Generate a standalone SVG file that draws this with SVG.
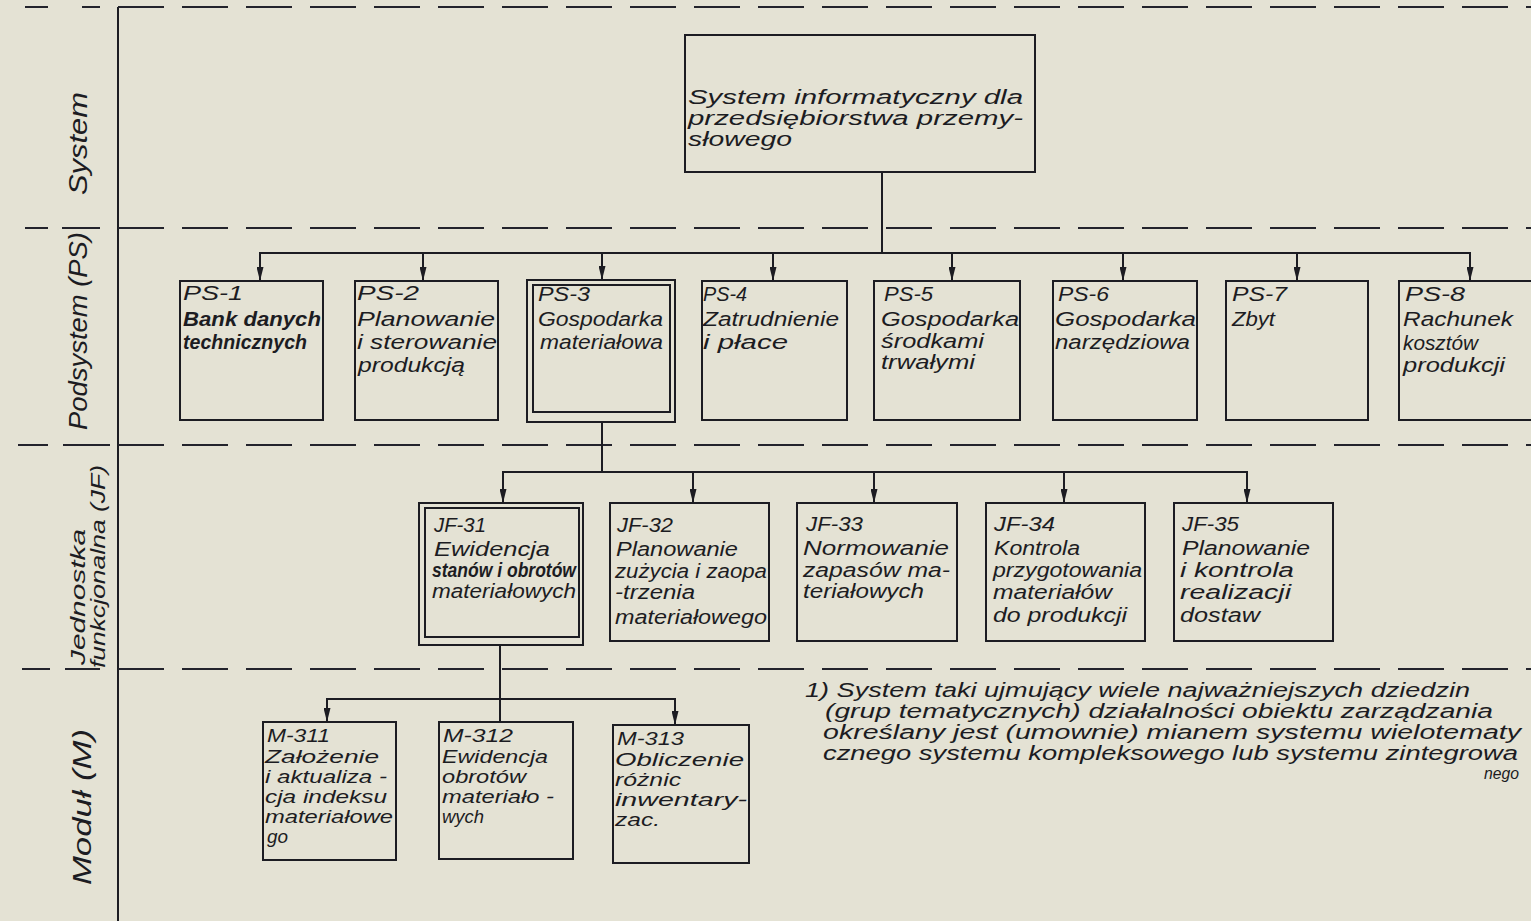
<svg xmlns="http://www.w3.org/2000/svg" width="1531" height="921" viewBox="0 0 1531 921">
<defs>
<style>
.bg{fill:#e4e2d4}
.box{fill:none;stroke:#1c1c22;stroke-width:2}
.ln{fill:none;stroke:#1c1c22;stroke-width:2}
.dash{fill:none;stroke:#23232c;stroke-width:2;stroke-dasharray:46 18}
.seg{fill:none;stroke:#23232c;stroke-width:2}
.t{font-family:"Liberation Sans",Arial,sans-serif;font-style:italic;font-size:20px;fill:#1c1c22}
.m{font-size:18px}
.b{font-weight:bold}
.lab{font-family:"Liberation Sans",Arial,sans-serif;font-style:italic;font-size:25px;fill:#1c1c22}
.lab2{font-family:"Liberation Sans",Arial,sans-serif;font-style:italic;font-size:21px;fill:#1c1c22}
.fn{font-family:"Liberation Sans",Arial,sans-serif;font-style:italic;font-size:20px;fill:#1c1c22}
</style>
<marker id="ah" markerUnits="userSpaceOnUse" markerWidth="14" markerHeight="7" refX="14" refY="3.5" orient="auto">
<path d="M0,0 L14,3.5 L0,7 Z" fill="#1c1c22"/>
</marker>
</defs>
<rect class="bg" x="0" y="0" width="1531" height="921"/>

<g id="grid">
<line class="ln" x1="118" y1="7" x2="118" y2="921"/>
<line class="seg" x1="25" y1="7" x2="48" y2="7"/><line class="seg" x1="82" y1="7" x2="100" y2="7"/>
<line class="dash" x1="118" y1="7" x2="1531" y2="7"/>
<line class="seg" x1="25" y1="228" x2="48" y2="228"/><line class="seg" x1="62" y1="228" x2="100" y2="228"/>
<line class="dash" x1="118" y1="228" x2="1531" y2="228"/>
<line class="seg" x1="18" y1="445" x2="48" y2="445"/><line class="seg" x1="63" y1="445" x2="110" y2="445"/>
<line class="dash" x1="118" y1="445" x2="1531" y2="445"/>
<line class="seg" x1="22" y1="669" x2="50" y2="669"/><line class="seg" x1="65" y1="669" x2="100" y2="669"/>
<line class="dash" x1="118" y1="669" x2="1531" y2="669"/>
</g>

<g id="labels">
<text class="lab" transform="translate(87,195) rotate(-90)" textLength="103" lengthAdjust="spacingAndGlyphs">System</text>
<text class="lab" transform="translate(87,430) rotate(-90)" textLength="198" lengthAdjust="spacingAndGlyphs">Podsystem (PS)</text>
<text class="lab2" transform="translate(85,665) rotate(-90)" textLength="136" lengthAdjust="spacingAndGlyphs">Jednostka</text>
<text class="lab2" transform="translate(105,668) rotate(-90)" textLength="203" lengthAdjust="spacingAndGlyphs">funkcjonalna (JF)</text>
<text class="lab" transform="translate(91,885) rotate(-90)" textLength="156" lengthAdjust="spacingAndGlyphs">Moduł (M)</text>
</g>

<g id="connectors">
<line class="ln" x1="882" y1="172" x2="882" y2="253"/>
<line class="ln" x1="259" y1="253" x2="1471" y2="253"/>
<line class="ln" x1="260" y1="253" x2="260" y2="281" marker-end="url(#ah)"/>
<line class="ln" x1="423" y1="253" x2="423" y2="281" marker-end="url(#ah)"/>
<line class="ln" x1="602" y1="253" x2="602" y2="280" marker-end="url(#ah)"/>
<line class="ln" x1="773" y1="253" x2="773" y2="281" marker-end="url(#ah)"/>
<line class="ln" x1="952" y1="253" x2="952" y2="281" marker-end="url(#ah)"/>
<line class="ln" x1="1123" y1="253" x2="1123" y2="281" marker-end="url(#ah)"/>
<line class="ln" x1="1297" y1="253" x2="1297" y2="281" marker-end="url(#ah)"/>
<line class="ln" x1="1470" y1="253" x2="1470" y2="281" marker-end="url(#ah)"/>

<line class="ln" x1="602" y1="422" x2="602" y2="472"/>
<line class="ln" x1="502" y1="472" x2="1248" y2="472"/>
<line class="ln" x1="503" y1="472" x2="503" y2="503" marker-end="url(#ah)"/>
<line class="ln" x1="693" y1="472" x2="693" y2="503" marker-end="url(#ah)"/>
<line class="ln" x1="874" y1="472" x2="874" y2="503" marker-end="url(#ah)"/>
<line class="ln" x1="1064" y1="472" x2="1064" y2="503" marker-end="url(#ah)"/>
<line class="ln" x1="1247" y1="472" x2="1247" y2="503" marker-end="url(#ah)"/>

<line class="ln" x1="500" y1="645" x2="500" y2="722"/>
<line class="ln" x1="326" y1="699" x2="676" y2="699"/>
<line class="ln" x1="327" y1="699" x2="327" y2="722" marker-end="url(#ah)"/>
<line class="ln" x1="675" y1="699" x2="675" y2="725" marker-end="url(#ah)"/>
</g>

<g id="system">
<rect class="box" x="685" y="35" width="350" height="137"/>
<text class="t" x="688" y="104" textLength="335" lengthAdjust="spacingAndGlyphs">System informatyczny dla</text>
<text class="t" x="688" y="125" textLength="335" lengthAdjust="spacingAndGlyphs">przedsiębiorstwa przemy-</text>
<text class="t" x="688" y="146" textLength="104" lengthAdjust="spacingAndGlyphs">słowego</text>
</g>

<g id="ps1">
<rect class="box" x="180" y="281" width="143" height="139"/>
<text class="t" x="183" y="300" textLength="60" lengthAdjust="spacingAndGlyphs">PS-1</text>
<text class="t b" x="183" y="326" textLength="138" lengthAdjust="spacingAndGlyphs">Bank danych</text>
<text class="t b" x="183" y="349" textLength="124" lengthAdjust="spacingAndGlyphs">technicznych</text>
</g>
<g id="ps2">
<rect class="box" x="355" y="281" width="143" height="139"/>
<text class="t" x="357" y="300" textLength="62" lengthAdjust="spacingAndGlyphs">PS-2</text>
<text class="t" x="357" y="326" textLength="138" lengthAdjust="spacingAndGlyphs">Planowanie</text>
<text class="t" x="357" y="349" textLength="140" lengthAdjust="spacingAndGlyphs">i sterowanie</text>
<text class="t" x="358" y="372" textLength="107" lengthAdjust="spacingAndGlyphs">produkcją</text>
</g>
<g id="ps3">
<rect class="box" x="527" y="280" width="148" height="142"/>
<rect class="box" x="533" y="285" width="137" height="127"/>
<text class="t" x="538" y="301" textLength="52" lengthAdjust="spacingAndGlyphs">PS-3</text>
<text class="t" x="538" y="326" textLength="125" lengthAdjust="spacingAndGlyphs">Gospodarka</text>
<text class="t" x="540" y="349" textLength="123" lengthAdjust="spacingAndGlyphs">materiałowa</text>
</g>
<g id="ps4">
<rect class="box" x="702" y="281" width="145" height="139"/>
<text class="t" x="703" y="301" textLength="44" lengthAdjust="spacingAndGlyphs">PS-4</text>
<text class="t" x="703" y="326" textLength="136" lengthAdjust="spacingAndGlyphs">Zatrudnienie</text>
<text class="t" x="703" y="349" textLength="85" lengthAdjust="spacingAndGlyphs">i płace</text>
</g>
<g id="ps5">
<rect class="box" x="874" y="281" width="146" height="139"/>
<text class="t" x="884" y="301" textLength="49" lengthAdjust="spacingAndGlyphs">PS-5</text>
<text class="t" x="881" y="326" textLength="138" lengthAdjust="spacingAndGlyphs">Gospodarka</text>
<text class="t" x="881" y="348" textLength="103" lengthAdjust="spacingAndGlyphs">środkami</text>
<text class="t" x="881" y="369" textLength="94" lengthAdjust="spacingAndGlyphs">trwałymi</text>
</g>
<g id="ps6">
<rect class="box" x="1053" y="281" width="144" height="139"/>
<text class="t" x="1058" y="301" textLength="51" lengthAdjust="spacingAndGlyphs">PS-6</text>
<text class="t" x="1055" y="326" textLength="141" lengthAdjust="spacingAndGlyphs">Gospodarka</text>
<text class="t" x="1055" y="349" textLength="135" lengthAdjust="spacingAndGlyphs">narzędziowa</text>
</g>
<g id="ps7">
<rect class="box" x="1226" y="281" width="142" height="139"/>
<text class="t" x="1232" y="301" textLength="55" lengthAdjust="spacingAndGlyphs">PS-7</text>
<text class="t" x="1232" y="326" textLength="43" lengthAdjust="spacingAndGlyphs">Zbyt</text>
</g>
<g id="ps8">
<rect class="box" x="1399" y="281" width="150" height="139"/>
<text class="t" x="1405" y="301" textLength="60" lengthAdjust="spacingAndGlyphs">PS-8</text>
<text class="t" x="1403" y="326" textLength="110" lengthAdjust="spacingAndGlyphs">Rachunek</text>
<text class="t" x="1403" y="350" textLength="75" lengthAdjust="spacingAndGlyphs">kosztów</text>
<text class="t" x="1403" y="372" textLength="102" lengthAdjust="spacingAndGlyphs">produkcji</text>
</g>

<g id="jf31">
<rect class="box" x="419" y="503" width="164" height="142"/>
<rect class="box" x="425" y="508" width="154" height="129"/>
<text class="t" x="434" y="532" textLength="52" lengthAdjust="spacingAndGlyphs">JF-31</text>
<text class="t" x="434" y="556" textLength="116" lengthAdjust="spacingAndGlyphs">Ewidencja</text>
<text class="t b" x="432" y="577" textLength="144" lengthAdjust="spacingAndGlyphs">stanów i obrotów</text>
<text class="t" x="432" y="598" textLength="144" lengthAdjust="spacingAndGlyphs">materiałowych</text>
</g>
<g id="jf32">
<rect class="box" x="610" y="503" width="159" height="138"/>
<text class="t" x="617" y="532" textLength="56" lengthAdjust="spacingAndGlyphs">JF-32</text>
<text class="t" x="616" y="556" textLength="122" lengthAdjust="spacingAndGlyphs">Planowanie</text>
<text class="t" x="615" y="578" textLength="152" lengthAdjust="spacingAndGlyphs">zużycia i zaopa</text>
<text class="t" x="615" y="599" textLength="80" lengthAdjust="spacingAndGlyphs">-trzenia</text>
<text class="t" x="615" y="624" textLength="152" lengthAdjust="spacingAndGlyphs">materiałowego</text>
</g>
<g id="jf33">
<rect class="box" x="797" y="503" width="160" height="138"/>
<text class="t" x="806" y="531" textLength="57" lengthAdjust="spacingAndGlyphs">JF-33</text>
<text class="t" x="803" y="555" textLength="146" lengthAdjust="spacingAndGlyphs">Normowanie</text>
<text class="t" x="803" y="577" textLength="147" lengthAdjust="spacingAndGlyphs">zapasów ma-</text>
<text class="t" x="803" y="598" textLength="121" lengthAdjust="spacingAndGlyphs">teriałowych</text>
</g>
<g id="jf34">
<rect class="box" x="986" y="503" width="159" height="138"/>
<text class="t" x="994" y="531" textLength="61" lengthAdjust="spacingAndGlyphs">JF-34</text>
<text class="t" x="994" y="555" textLength="86" lengthAdjust="spacingAndGlyphs">Kontrola</text>
<text class="t" x="993" y="577" textLength="149" lengthAdjust="spacingAndGlyphs">przygotowania</text>
<text class="t" x="993" y="599" textLength="119" lengthAdjust="spacingAndGlyphs">materiałów</text>
<text class="t" x="993" y="622" textLength="134" lengthAdjust="spacingAndGlyphs">do produkcji</text>
</g>
<g id="jf35">
<rect class="box" x="1174" y="503" width="159" height="138"/>
<text class="t" x="1182" y="531" textLength="57" lengthAdjust="spacingAndGlyphs">JF-35</text>
<text class="t" x="1182" y="555" textLength="128" lengthAdjust="spacingAndGlyphs">Planowanie</text>
<text class="t" x="1180" y="577" textLength="114" lengthAdjust="spacingAndGlyphs">i kontrola</text>
<text class="t" x="1180" y="599" textLength="111" lengthAdjust="spacingAndGlyphs">realizacji</text>
<text class="t" x="1180" y="622" textLength="80" lengthAdjust="spacingAndGlyphs">dostaw</text>
</g>

<g id="m311">
<rect class="box" x="263" y="722" width="133" height="138"/>
<text class="t m" x="267" y="742" textLength="63" lengthAdjust="spacingAndGlyphs">M-311</text>
<text class="t m" x="265" y="763" textLength="114" lengthAdjust="spacingAndGlyphs">Założenie</text>
<text class="t m" x="265" y="783" textLength="122" lengthAdjust="spacingAndGlyphs">i aktualiza -</text>
<text class="t m" x="265" y="803" textLength="122" lengthAdjust="spacingAndGlyphs">cja indeksu</text>
<text class="t m" x="265" y="823" textLength="128" lengthAdjust="spacingAndGlyphs">materiałowe</text>
<text class="t m" x="267" y="843" textLength="21" lengthAdjust="spacingAndGlyphs">go</text>
</g>
<g id="m312">
<rect class="box" x="439" y="722" width="134" height="137"/>
<text class="t m" x="443" y="742" textLength="70" lengthAdjust="spacingAndGlyphs">M-312</text>
<text class="t m" x="442" y="763" textLength="106" lengthAdjust="spacingAndGlyphs">Ewidencja</text>
<text class="t m" x="442" y="783" textLength="84" lengthAdjust="spacingAndGlyphs">obrotów</text>
<text class="t m" x="442" y="803" textLength="112" lengthAdjust="spacingAndGlyphs">materiało -</text>
<text class="t m" x="442" y="823" textLength="42" lengthAdjust="spacingAndGlyphs">wych</text>
</g>
<g id="m313">
<rect class="box" x="613" y="725" width="136" height="138"/>
<text class="t m" x="617" y="745" textLength="67" lengthAdjust="spacingAndGlyphs">M-313</text>
<text class="t m" x="615" y="766" textLength="129" lengthAdjust="spacingAndGlyphs">Obliczenie</text>
<text class="t m" x="615" y="786" textLength="66" lengthAdjust="spacingAndGlyphs">różnic</text>
<text class="t m" x="615" y="806" textLength="132" lengthAdjust="spacingAndGlyphs">inwentary-</text>
<text class="t m" x="615" y="826" textLength="45" lengthAdjust="spacingAndGlyphs">zac.</text>
</g>

<g id="footnote">
<text class="fn" x="805" y="697" textLength="665" lengthAdjust="spacingAndGlyphs">1) System taki ujmujący wiele najważniejszych dziedzin</text>
<text class="fn" x="825" y="718" textLength="668" lengthAdjust="spacingAndGlyphs">(grup tematycznych) działalności obiektu zarządzania</text>
<text class="fn" x="823" y="739" textLength="698" lengthAdjust="spacingAndGlyphs">określany jest (umownie) mianem systemu wielotematy</text>
<text class="fn" x="823" y="760" textLength="695" lengthAdjust="spacingAndGlyphs">cznego systemu kompleksowego lub systemu zintegrowa</text>
<text class="fn" x="1484" y="779" textLength="35" lengthAdjust="spacingAndGlyphs" style="font-size:17px">nego</text>
</g>
</svg>
